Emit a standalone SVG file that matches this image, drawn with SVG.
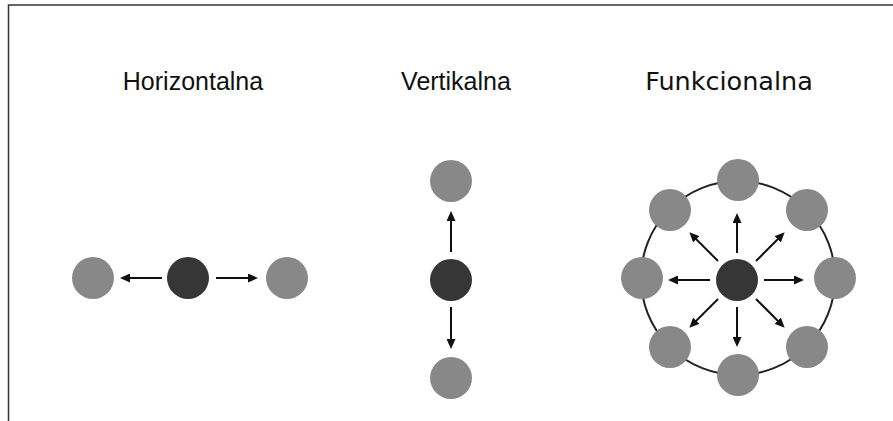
<svg xmlns="http://www.w3.org/2000/svg" width="893" height="421" viewBox="0 0 893 421">
<style>
.title{font-family:"Liberation Sans",Arial,sans-serif;font-size:25px;fill:#111;text-anchor:middle}
.title2{font-family:"DejaVu Sans",sans-serif;font-size:25.5px;fill:#111;text-anchor:middle}
.peer{fill:#888}
.hub{fill:#363636}
.arr{stroke:#111;stroke-width:2;fill:none;marker-end:url(#ah)}
.ring{fill:none;stroke:#222;stroke-width:2}
</style>
<defs>
<marker id="ah" markerUnits="userSpaceOnUse" markerWidth="11" markerHeight="9" refX="2" refY="4.5" orient="auto">
<path d="M0,0 L10,4.5 L0,9 z" fill="#111"/>
</marker>
</defs>
<rect width="893" height="421" fill="#fff"/>
<path d="M8.5,421 V5 H893" fill="none" stroke="#333" stroke-width="1.5"/>
<text class="title" x="193" y="90">Horizontalna</text>
<text class="title" x="456" y="90">Vertikalna</text>
<text class="title2" x="729" y="90">Funkcionalna</text>
<g id="functional-ring"><circle class="ring" cx="738" cy="278" r="97"/></g>
<g id="connectors">
<path class="arr" d="M162,278 H128"/>
<path class="arr" d="M216,278 H250"/>
<path class="arr" d="M451,252 V219"/>
<path class="arr" d="M451,307 V341"/>
<path class="arr" d="M737,253 V221"/>
<path class="arr" d="M737,307 V339"/>
<path class="arr" d="M710,280 H676"/>
<path class="arr" d="M764,280 H796"/>
<path class="arr" d="M718,261 L695,238"/>
<path class="arr" d="M756,261 L779,238"/>
<path class="arr" d="M718,299 L695,322"/>
<path class="arr" d="M756,299 L779,322"/>
</g>
<g id="h-left"><circle class="peer" cx="93" cy="278" r="21"/></g>
<g id="h-hub"><circle class="hub" cx="188" cy="278" r="21"/></g>
<g id="h-right"><circle class="peer" cx="287" cy="278" r="21"/></g>
<g id="v-top"><circle class="peer" cx="451" cy="181" r="21"/></g>
<g id="v-hub"><circle class="hub" cx="451" cy="280" r="21"/></g>
<g id="v-bottom"><circle class="peer" cx="451" cy="378" r="21"/></g>
<g id="f-hub"><circle class="hub" cx="737" cy="280" r="21"/></g>
<g id="f-n"><circle class="peer" cx="738" cy="180" r="21"/></g>
<g id="f-ne"><circle class="peer" cx="807" cy="210" r="21"/></g>
<g id="f-e"><circle class="peer" cx="835" cy="278" r="21"/></g>
<g id="f-se"><circle class="peer" cx="807" cy="347" r="21"/></g>
<g id="f-s"><circle class="peer" cx="738" cy="375" r="21"/></g>
<g id="f-sw"><circle class="peer" cx="670" cy="347" r="21"/></g>
<g id="f-w"><circle class="peer" cx="642" cy="278" r="21"/></g>
<g id="f-nw"><circle class="peer" cx="670" cy="210" r="21"/></g>
</svg>
